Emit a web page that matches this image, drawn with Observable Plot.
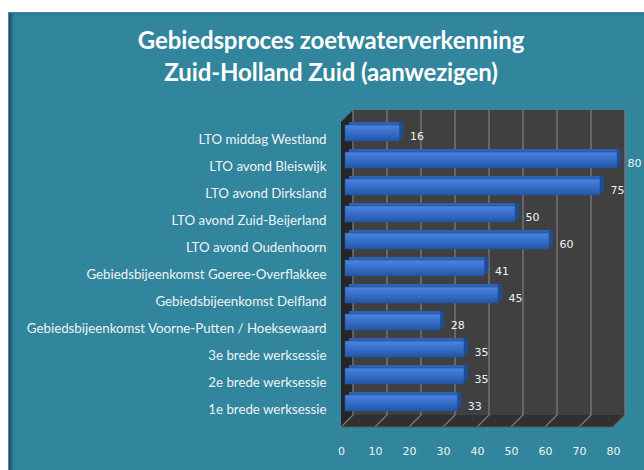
<!DOCTYPE html>
<html>
<head>
<meta charset="utf-8">
<script src="https://cdn.jsdelivr.net/npm/d3@7"></script>
<script src="https://cdn.jsdelivr.net/npm/@observablehq/plot@0.6"></script>
<style>
  html, body { margin: 0; padding: 0; background: #ffffff; }
  #wrap { position: relative; width: 644px; height: 470px; overflow: hidden; }
  #panel { position: absolute; left: 8px; top: 12px; width: 650px; height: 470px;
           background: #31859C; border: 1px solid #4F81BD; box-sizing: border-box;
           box-shadow: inset 3px 0 3px rgba(0,0,0,0.35); }
  #title { position: absolute; left: 0; top: 24px; width: 662px; text-align: center;
           font-family: Lato, "Open Sans", sans-serif; font-weight: bold; font-size: 24px;
           line-height: 32px; color: #ffffff; letter-spacing: -0.1px; }
  #chart { position: absolute; left: 0; top: 0; }
  #chart svg { overflow: visible; }
  #chart svg [aria-label^="y-axis"] text { font-family: Lato, "Open Sans", sans-serif; font-size: 13.3px; }
  #chart svg [aria-label^="x-axis"] text { font-family: "DejaVu Sans", sans-serif; font-size: 11px; }
</style>
</head>
<body>
<div id="wrap">
  <div id="panel"></div>
  <div id="title">Gebiedsproces zoetwaterverkenning<br>Zuid-Holland Zuid (aanwezigen)</div>
  <div id="chart"></div>
</div>
<script>
const categories = [
  "LTO middag Westland",
  "LTO avond Bleiswijk",
  "LTO avond Dirksland",
  "LTO avond Zuid-Beijerland",
  "LTO avond Oudenhoorn",
  "Gebiedsbijeenkomst Goeree-Overflakkee",
  "Gebiedsbijeenkomst Delfland",
  "Gebiedsbijeenkomst Voorne-Putten / Hoeksewaard",
  "3e brede werksessie",
  "2e brede werksessie",
  "1e brede werksessie"
];
const values = [16, 80, 75, 50, 60, 41, 45, 28, 35, 35, 33];
const xTicks = [0, 10, 20, 30, 40, 50, 60, 70, 80];

const data = categories.map((c, i) => ({category: c, value: values[i]}));

const DEPTH = 12; // 3D box depth in px

// 3D box (walls, floor, gridlines) drawn from the plot's own scales
function box(index, scales, values_, dims) {
  const x = scales.x;
  const top = dims.marginTop, bottom = dims.height - dims.marginBottom;
  const x0 = x(xTicks[0]), x1 = x(xTicks[xTicks.length - 1]);
  const g = d3.create("svg:g");
  const defs = g.append("defs");
  const grad = defs.append("linearGradient").attr("id", "barFront").attr("x1", 0).attr("y1", 0).attr("x2", 0).attr("y2", 1);
  grad.append("stop").attr("offset", "0%").attr("stop-color", "#4C86DC");
  grad.append("stop").attr("offset", "35%").attr("stop-color", "#3B74D0");
  grad.append("stop").attr("offset", "100%").attr("stop-color", "#2556A6");
  // back wall
  g.append("rect").attr("x", x0 + DEPTH).attr("y", top - DEPTH)
    .attr("width", x1 - x0).attr("height", bottom - top).attr("fill", "#404040");
  // left wall
  g.append("path").attr("d", `M${x0},${top}L${x0 + DEPTH},${top - DEPTH}L${x0 + DEPTH},${bottom - DEPTH}L${x0},${bottom}Z`)
    .attr("fill", "#262626");
  // floor
  g.append("path").attr("d", `M${x0},${bottom}L${x0 + DEPTH},${bottom - DEPTH}L${x1 + DEPTH},${bottom - DEPTH}L${x1},${bottom}Z`)
    .attr("fill", "#303030");
  // gridlines on back wall and floor
  for (const t of xTicks) {
    const xt = x(t);
    g.append("path").attr("d", `M${xt + DEPTH},${top - DEPTH}L${xt + DEPTH},${bottom - DEPTH}L${xt},${bottom}`)
      .attr("fill", "none").attr("stroke", "#7a7a7a").attr("stroke-width", 1.3);
  }
  // floor front edge
  g.append("path").attr("d", `M${x0},${bottom}L${x1},${bottom}L${x1 + DEPTH},${bottom - DEPTH}`)
    .attr("fill", "none").attr("stroke", "#5a5a5a").attr("stroke-width", 1);
  return g.node();
}

const chart = Plot.plot({
  width: 644,
  height: 470,
  marginLeft: 341,
  marginRight: 31,
  marginTop: 122,
  marginBottom: 43,
  style: {background: "transparent", color: "#EEF3F6", overflow: "visible"},
  x: {domain: [0, 80], ticks: xTicks, tickSize: 0, tickPadding: 20, label: null, tickFormat: d => String(d)},
  y: {domain: categories, paddingInner: 0.4, paddingOuter: 0.2, tickSize: 0, tickPadding: 15, label: null},
  marks: [
    box,
    // side face (dark)
    Plot.barX(data, {y: "category", x: "value", fill: "#1F4C92", dx: 8, dy: -9}),
    // top face (lighter)
    Plot.barX(data, {y: "category", x: "value", fill: "#2F62B4", dx: 8, dy: -9, insetRight: 4}),
    // front face
    Plot.barX(data, {y: "category", x: "value", fill: "url(#barFront)", stroke: "#23519E", strokeWidth: 0.6, dx: 4, dy: -6}),
    Plot.text(data, {y: "category", x: "value", text: d => String(d.value), textAnchor: "start",
      dx: 14, dy: -3, fill: "#EEF3F6", fontSize: 11, fontFamily: "DejaVu Sans"})
  ]
});
document.getElementById("chart").appendChild(chart);
</script>
</body>
</html>
